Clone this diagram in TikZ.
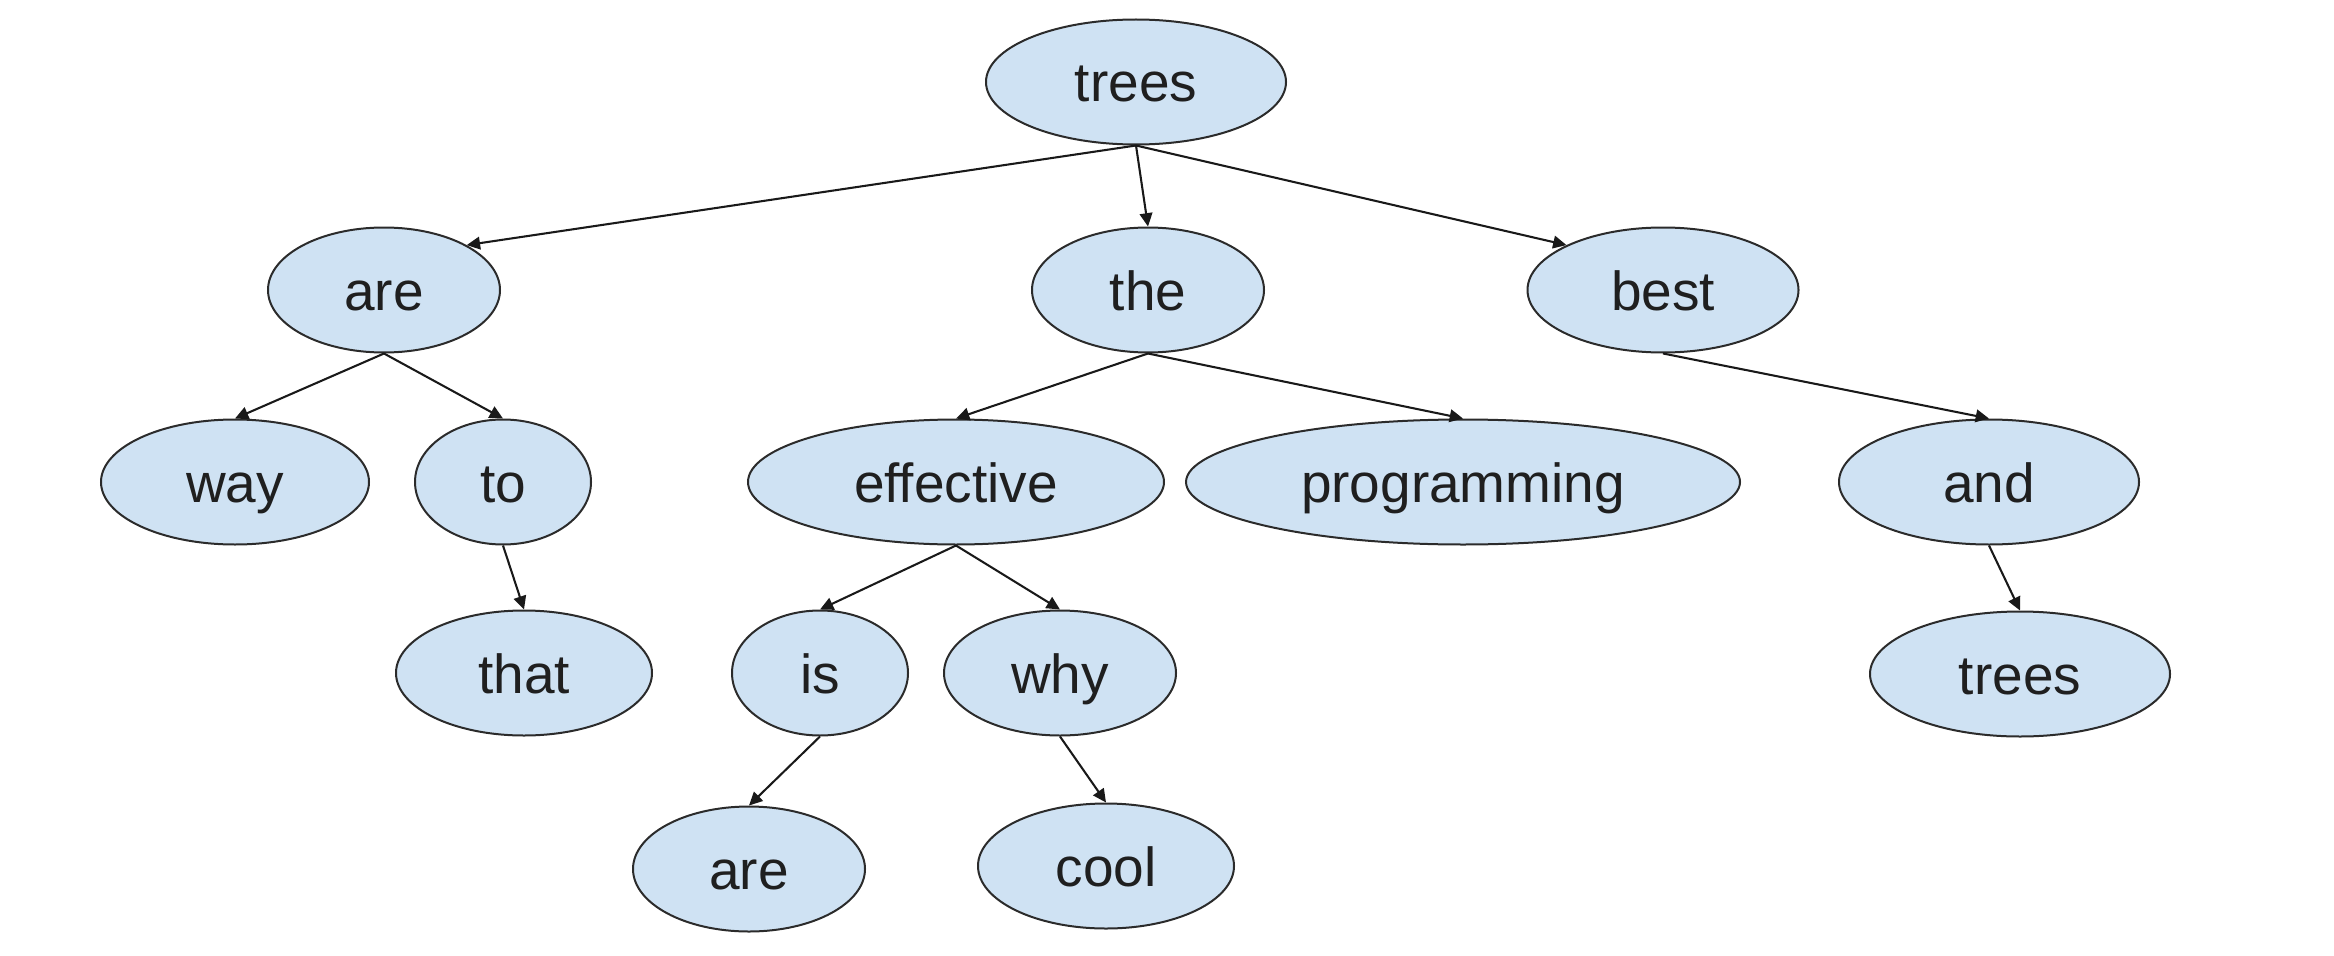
\documentclass[tikz,border=0pt]{standalone}
\usepackage{fontspec}
\setmainfont{Liberation Sans}
\usetikzlibrary{shapes.geometric,arrows.meta}
\definecolor{nodefill}{HTML}{CFE2F3}
\definecolor{nodeline}{HTML}{2B2B2B}
\definecolor{txt}{HTML}{1F1F1F}
\begin{document}
\begin{tikzpicture}[x=0.3pt,y=-0.3pt,
  word/.style={ellipse,draw=nodeline,fill=nodefill,line width=0.6pt,inner sep=0pt,
    minimum height=37.5pt,text=txt,text height=15.3pt,text depth=3.3pt,
    font=\fontsize{16.5pt}{18pt}\selectfont},
  w/.style={minimum width=#1*0.3pt},
  link/.style={draw=black!90,line width=0.62pt,-{Triangle[length=4pt,width=3.8pt]}}]
\useasboundingbox (0,0) rectangle (2334,956);
\node[word,w=300] (trees) at (1136,82) {trees};
\node[word,w=232] (are) at (384,290) {are};
\node[word,w=232] (the) at (1148,290) {the};
\node[word,w=271] (best) at (1663,290) {best};
\node[word,w=268] (way) at (235,482) {way};
\node[word,w=176] (to) at (503,482) {to};
\node[word,w=416] (effective) at (956,482) {effective};
\node[word,w=554] (programming) at (1463,482) {programming};
\node[word,w=300] (and) at (1989,482) {and};
\node[word,w=256] (that) at (524,673) {that};
\node[word,w=176] (is) at (820,673) {is};
\node[word,w=232] (why) at (1060,673) {why};
\node[word,w=300] (trees2) at (2020,674) {trees};
\node[word,w=232] (are2) at (749,869) {are};
\node[word,w=256] (cool) at (1106,866) {cool};
\draw[link] (trees.south) -- (are.north east);
\draw[link] (trees.south) -- (the.north);
\draw[link] (trees.south) -- (best.north west);
\draw[link] (are.south) -- (way.north);
\draw[link] (are.south) -- (to.north);
\draw[link] (to.south) -- (that.north);
\draw[link] (the.south) -- (effective.north);
\draw[link] (the.south) -- (programming.north);
\draw[link] (effective.south) -- (is.north);
\draw[link] (effective.south) -- (why.north);
\draw[link] (is.south) -- (are2.north);
\draw[link] (why.south) -- (cool.north);
\draw[link] (best.south) -- (and.north);
\draw[link] (and.south) -- (trees2.north);
\end{tikzpicture}
\end{document}
